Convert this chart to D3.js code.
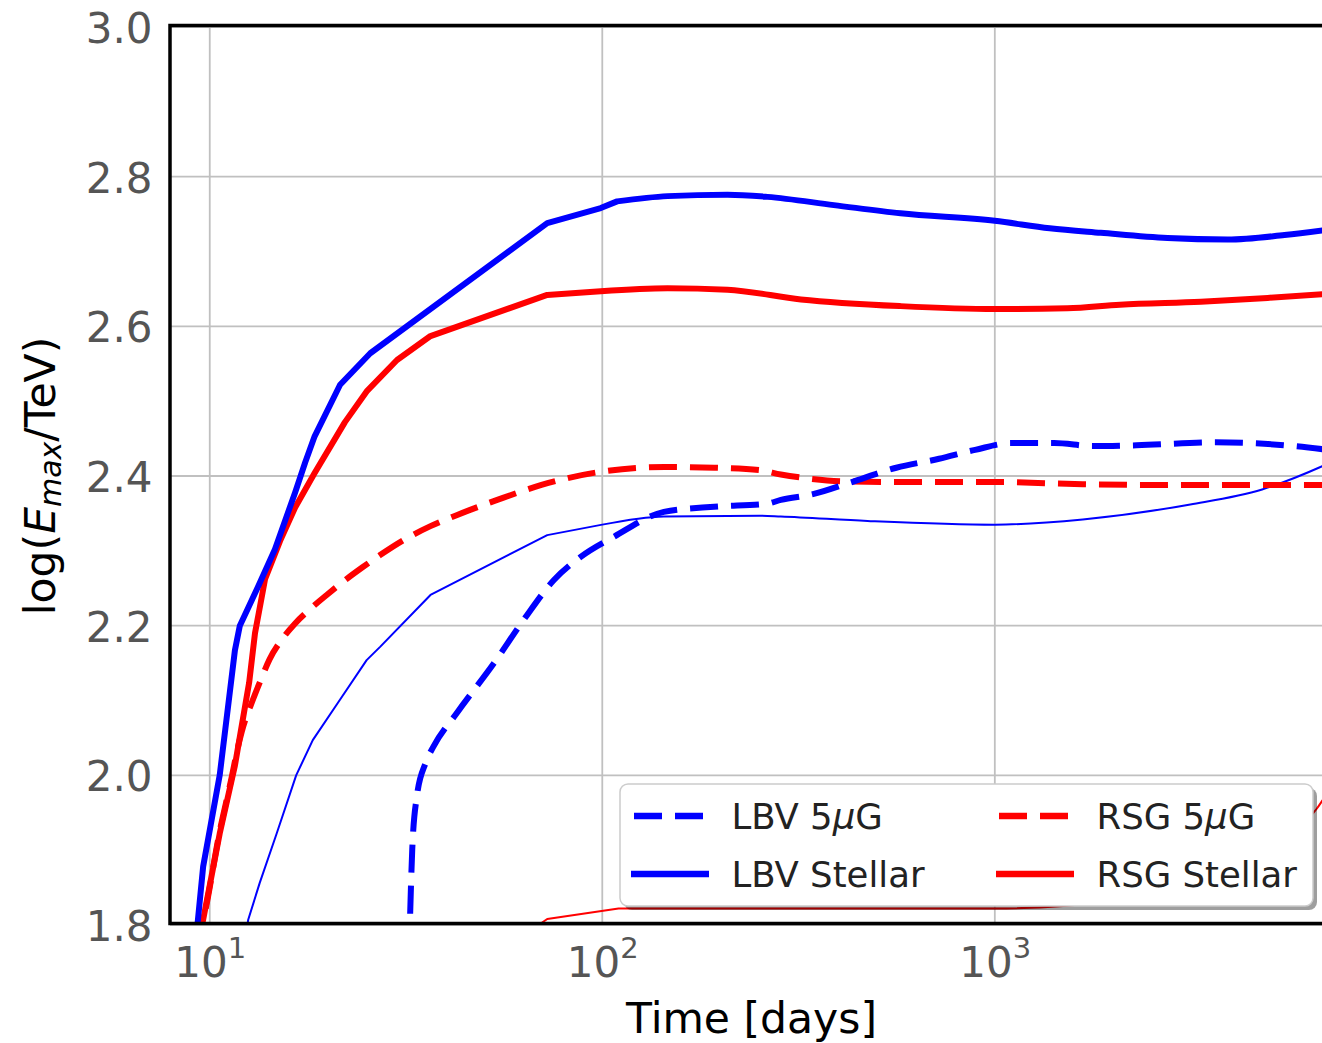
<!DOCTYPE html>
<html><head><meta charset="utf-8">
<script src="https://cdn.jsdelivr.net/npm/d3@7/dist/d3.min.js"></script>
<style>body{margin:0;background:#fff}svg{display:block}</style>
</head><body>
<svg id="c" width="1322" height="1043"></svg>
<script>
// ---------------- DATA ----------------
const lbvStellarDays = [9.0, 9.33, 9.62, 10.6, 11.59, 11.93, 13.3, 14.66, 16.5, 17.5, 18.5, 21.48, 25.64, 72.4, 99.1, 109.1, 146.6, 208.4, 263.6, 389, 575, 1000, 1380, 1862, 2754, 3917, 5470, 7300];
const lbvStellarVals = [1.72, 1.807, 1.878, 2.0, 2.167, 2.2, 2.253, 2.302, 2.378, 2.418, 2.453, 2.522, 2.564, 2.738, 2.758, 2.767, 2.774, 2.776, 2.773, 2.762, 2.751, 2.741, 2.731, 2.725, 2.718, 2.716, 2.722, 2.730];

const rsgStellarDays = [9.12, 9.62, 10.6, 11.59, 12.6, 13.04, 13.83, 15.1, 16.5, 18.5, 22.1, 25.1, 30.0, 36.5, 72.4, 99.1, 146.6, 208.4, 320.6, 575.4, 1000, 1531, 2084, 3350, 4955, 7300];
const rsgStellarVals = [1.77, 1.807, 1.922, 2.013, 2.124, 2.19, 2.262, 2.313, 2.358, 2.404, 2.472, 2.513, 2.555, 2.587, 2.642, 2.647, 2.651, 2.649, 2.636, 2.627, 2.623, 2.624, 2.629, 2.633, 2.638, 2.644];

const lbv5Days = [32.4, 32.8, 33.7, 35.5, 37.2, 42.7, 53.0, 63.1, 75.3, 88.1, 107.2, 143.5, 192.8, 263, 285, 346, 427, 561, 721, 891, 1099, 1416, 1782, 2296, 3648, 5794, 7300];
const lbv5Vals = [1.815, 1.901, 1.972, 2.017, 2.039, 2.084, 2.150, 2.208, 2.261, 2.292, 2.319, 2.352, 2.359, 2.363, 2.368, 2.376, 2.391, 2.411, 2.423, 2.435, 2.444, 2.444, 2.440, 2.441, 2.445, 2.440, 2.434];

const rsg5Days = [9.12, 9.62, 10.6, 11.4, 11.72, 12.06, 12.9, 13.5, 14.2, 15.39, 16.5, 18.0, 19.86, 21.89, 24.5, 27.1, 31.1, 36.5, 42.7, 54, 70, 100, 144, 193, 251, 285, 331, 410, 585, 1000, 1675, 2550, 7300];
const rsg5Vals = [1.77, 1.807, 1.925, 2.0, 2.031, 2.058, 2.102, 2.128, 2.155, 2.184, 2.203, 2.222, 2.241, 2.259, 2.278, 2.294, 2.314, 2.333, 2.348, 2.368, 2.388, 2.406, 2.412, 2.411, 2.408, 2.402, 2.397, 2.393, 2.392, 2.392, 2.389, 2.388, 2.388];

const lbvThinDays = [12.3, 12.53, 13.4, 14.8, 16.6, 18.3, 21.4, 25.1, 27.2, 36.5, 72.4, 100, 143.5, 252, 285, 474, 1000, 1675, 3148, 4797, 6823, 7300];
const lbvThinVals = [1.78, 1.807, 1.856, 1.922, 2.0, 2.047, 2.10, 2.154, 2.172, 2.241, 2.321, 2.335, 2.346, 2.347, 2.346, 2.340, 2.335, 2.342, 2.362, 2.382, 2.413, 2.42];

const rsgThinDays = [36.5, 72.4, 110, 150, 1000, 2000, 3500, 5000, 6000, 6600, 7300];
const rsgThinVals = [1.70, 1.808, 1.822, 1.822, 1.822, 1.832, 1.86, 1.90, 1.93, 1.955, 1.99];

const xTickValues = [10, 100, 1000];
const xTickBase = ["10", "10", "10"];
const xTickExp = ["1", "2", "3"];
const yTickValues = [1.8, 2.0, 2.2, 2.4, 2.6, 2.8, 3.0];

const legendLabels = [["LBV 5", "μ", "G"], ["LBV Stellar"], ["RSG 5", "μ", "G"], ["RSG Stellar"]];

// ---------------- CHART ----------------
const svg = d3.select("#c");
const x = d3.scaleLog().domain([7.92, 7270]).range([170, 1333]);
const y = d3.scaleLinear().domain([1.8, 3.0]).range([925, 27]);
const FONT = "DejaVu Sans, sans-serif";

svg.append("defs").append("clipPath").attr("id", "clip")
  .append("rect").attr("x", x.range()[0]).attr("y", y.range()[1])
  .attr("width", x.range()[1] - x.range()[0]).attr("height", y.range()[0] - y.range()[1]);

// gridlines
const grid = svg.append("g").attr("stroke", "#c0c0c0").attr("stroke-width", 1.8);
grid.selectAll(".vg").data(xTickValues).join("line")
  .attr("x1", d => x(d)).attr("x2", d => x(d)).attr("y1", y.range()[1]).attr("y2", y.range()[0]);
grid.selectAll(".hg").data(yTickValues).join("line")
  .attr("y1", d => y(d)).attr("y2", d => y(d)).attr("x1", x.range()[0]).attr("x2", x.range()[1]);

// lines: piecewise-linear part (sparse early model points), smooth part after
const plot = svg.append("g").attr("clip-path", "url(#clip)");
const lin = d3.line().x(d => x(d[0])).y(d => y(d[1])).curve(d3.curveLinear);
const mono = d3.line().x(d => x(d[0])).y(d => y(d[1])).curve(d3.curveMonotoneX);
const zip = (a, b) => a.map((v, i) => [v, b[i]]);
function pathFor(pts, breakDay) {
  const b = pts.findIndex(p => p[0] >= breakDay);
  if (b <= 0) return mono(pts);
  const first = lin(pts.slice(0, b + 1));
  const second = mono(pts.slice(b)).replace(/^M[^A-Za-z]*/, "");
  return first + second;
}
const series = [
  {d: zip(rsgThinDays, rsgThinVals), c: "#ff0000", w: 2, dash: null, brk: 110},
  {d: zip(lbvThinDays, lbvThinVals), c: "#0000ff", w: 2, dash: null, brk: 100},
  {d: zip(rsg5Days, rsg5Vals), c: "#ff0000", w: 6, dash: "28,13", brk: 0},
  {d: zip(lbv5Days, lbv5Vals), c: "#0000ff", w: 6, dash: "28,13", brk: 0},
  {d: zip(rsgStellarDays, rsgStellarVals), c: "#ff0000", w: 6, dash: null, brk: 99.1},
  {d: zip(lbvStellarDays, lbvStellarVals), c: "#0000ff", w: 6, dash: null, brk: 109.1},
];
series.forEach(s => {
  plot.append("path").attr("d", pathFor(s.d, s.brk)).attr("fill", "none")
    .attr("stroke", s.c).attr("stroke-width", s.w)
    .attr("stroke-linejoin", "round")
    .attr("stroke-dasharray", s.dash);
});

// frame
svg.append("rect").attr("x", x.range()[0]).attr("y", y.range()[1] - 1.5)
  .attr("width", x.range()[1] - x.range()[0]).attr("height", y.range()[0] - y.range()[1])
  .attr("fill", "none").attr("stroke", "#000").attr("stroke-width", 3.5);

// y axis
const yAx = svg.append("g").attr("transform", `translate(${x.range()[0]},0)`)
  .call(d3.axisLeft(y).tickValues(yTickValues).tickFormat(d3.format(".1f")).tickSize(0).tickPadding(17.5));
yAx.select(".domain").remove();
yAx.selectAll("text").attr("font-family", FONT).attr("font-size", 42).attr("fill", "#555").attr("dy", "0.37em");

// x axis
const xAx = svg.append("g").attr("transform", `translate(0,${y.range()[0]})`)
  .call(d3.axisBottom(x).tickValues(xTickValues).tickSize(0).tickPadding(22).tickFormat(() => ""));
xAx.select(".domain").remove();
xAx.selectAll("text").each(function(d, i) {
  const t = d3.select(this).attr("font-family", FONT).attr("font-size", 42).attr("fill", "#555");
  t.text(null);
  t.append("tspan").text(xTickBase[i]);
  t.append("tspan").attr("font-size", 29).attr("dy", -19).text(xTickExp[i]);
});

// axis labels
svg.append("text").attr("x", 751.5).attr("y", 1033).attr("text-anchor", "middle")
  .attr("font-family", FONT).attr("font-size", 42.5).attr("fill", "#000").text("Time [days]");
const yl = svg.append("text").attr("transform", "translate(55,476) rotate(-90)")
  .attr("text-anchor", "middle").attr("font-family", FONT).attr("font-size", 42.5).attr("fill", "#000");
yl.append("tspan").text("log(");
yl.append("tspan").attr("font-style", "italic").text("E");
yl.append("tspan").attr("font-style", "italic").attr("font-size", 30).attr("dy", 6).text("max");
yl.append("tspan").attr("dy", -6).text("/TeV)");

// legend
const lg = svg.append("g");
const L = {x0: 620, y0: 784, x1: 1313, y1: 906};
lg.append("rect").attr("x", L.x0 + 4).attr("y", L.y0 + 4).attr("width", L.x1 - L.x0).attr("height", L.y1 - L.y0)
  .attr("rx", 8).attr("fill", "#000").attr("opacity", 0.38);
lg.append("rect").attr("x", L.x0).attr("y", L.y0).attr("width", L.x1 - L.x0).attr("height", L.y1 - L.y0)
  .attr("rx", 8).attr("fill", "#fff").attr("stroke", "#cccccc").attr("stroke-width", 1.5);
const legItems = [
  {col: 0, row: 0, c: "#0000ff", dash: "28,13"},
  {col: 0, row: 1, c: "#0000ff", dash: null},
  {col: 1, row: 0, c: "#ff0000", dash: "28,13"},
  {col: 1, row: 1, c: "#ff0000", dash: null},
];
const colHandleX = [631, 996], colTextX = [731.5, 1096.5], rowY = [816, 874];
legItems.forEach((it, i) => {
  lg.append("line").attr("x1", colHandleX[it.col]).attr("x2", colHandleX[it.col] + 78)
    .attr("y1", rowY[it.row]).attr("y2", rowY[it.row])
    .attr("stroke", it.c).attr("stroke-width", 6.5)
    .attr("stroke-dasharray", it.dash).attr("stroke-dashoffset", it.dash ? -3 : null);
  const t = lg.append("text").attr("x", colTextX[it.col]).attr("y", rowY[it.row] + 13)
    .attr("font-family", FONT).attr("font-size", 35.5).attr("fill", "#222");
  const parts = legendLabels[i];
  t.append("tspan").text(parts[0]);
  if (parts.length > 1) {
    t.append("tspan").attr("font-style", "italic").text(parts[1]);
    t.append("tspan").text(parts[2]);
  }
});
</script>
</body></html>
